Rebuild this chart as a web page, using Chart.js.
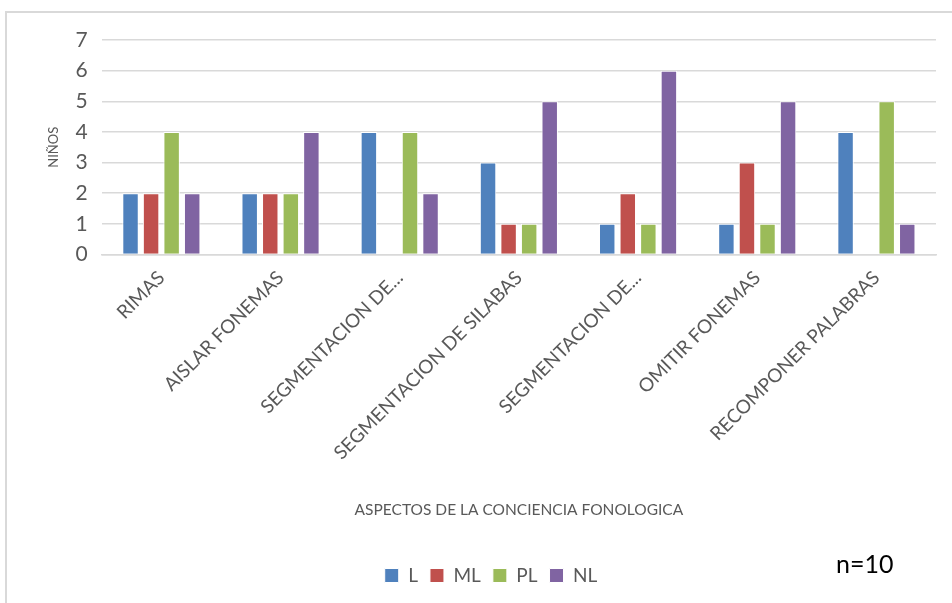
<!DOCTYPE html>
<html>
<head>
<meta charset="utf-8">
<script src="https://cdn.jsdelivr.net/npm/chart.js@4"></script>
<style>
  html, body { margin: 0; padding: 0; background: #fff; overflow: hidden; }
  #frame { position: absolute; left: 5px; top: 11px; width: 1100px; height: 700px;
           border-left: 2px solid #d9d9d9; border-top: 2px solid #d9d9d9; }
  #wrap { position: absolute; left: 0; top: 0; width: 952px; height: 603px; }
</style>
</head>
<body>
<div id="frame"></div>
<div id="wrap"><canvas id="chart"></canvas></div>
<script>
// ─── Data ───
const categories = [
  'RIMAS',
  'AISLAR FONEMAS',
  'SEGMENTACION DE...',
  'SEGMENTACION DE SILABAS',
  'SEGMENTACION DE...',
  'OMITIR FONEMAS',
  'RECOMPONER PALABRAS'
];
const serieL  = [2, 2, 4, 3, 1, 1, 4];
const serieML = [2, 2, 0, 1, 2, 3, 0];
const seriePL = [4, 2, 4, 1, 1, 1, 5];
const serieNL = [2, 4, 2, 5, 6, 5, 1];
const yTicks = [0, 1, 2, 3, 4, 5, 6, 7];

const FONT = 'Lato, "Open Sans", sans-serif';
const GREY = '#595959';

function bar(label, data, color) {
  return {
    label, data,
    backgroundColor: color,
    borderColor: '#ffffff',
    borderWidth: 1,
    barPercentage: 0.8,
    categoryPercentage: 0.69
  };
}

// n=10 note on the chart area
const noteN = {
  id: 'noteN',
  afterDraw(chart) {
    const ctx = chart.ctx;
    ctx.save();
    ctx.font = '25px ' + FONT;
    ctx.fillStyle = '#000';
    ctx.textAlign = 'left';
    ctx.textBaseline = 'middle';
    ctx.fillText('n=10', 836, 565);
    ctx.restore();
  }
};

new Chart(document.getElementById('chart'), {
  type: 'bar',
  data: {
    labels: categories,
    datasets: [
      bar('L', serieL, '#4F81BD'),
      bar('ML', serieML, '#C0504D'),
      bar('PL', seriePL, '#9BBB59'),
      bar('NL', serieNL, '#8064A2')
    ]
  },
  options: {
    responsive: true,
    maintainAspectRatio: false,
    animation: false,
    layout: { padding: { top: 40, right: 16, left: 46, bottom: 8 } },
    plugins: {
      legend: {
        position: 'bottom',
        labels: {
          font: { size: 19, family: FONT },
          color: GREY,
          boxWidth: 14,
          boxHeight: 14,
          padding: 12
        }
      },
      tooltip: { enabled: false }
    },
    scales: {
      y: {
        min: 0,
        max: 7,
        afterBuildTicks(axis) { axis.ticks = yTicks.map(v => ({ value: v })); },
        grid: { color: '#d9d9d9', lineWidth: 1.5, drawTicks: false },
        border: { display: false },
        ticks: { font: { size: 21, family: FONT }, color: GREY, padding: 14 },
        title: { display: true, text: 'NIÑOS', font: { size: 13, family: FONT }, color: GREY, padding: 0 }
      },
      x: {
        afterFit(scale) { scale.height += 22; },
        grid: { display: false },
        border: { color: '#d9d9d9', width: 1.5 },
        ticks: {
          font: { size: 19, family: FONT },
          color: GREY,
          maxRotation: 45,
          minRotation: 45,
          autoSkip: false,
          padding: 4
        },
        title: {
          display: true,
          text: 'ASPECTOS DE LA CONCIENCIA FONOLOGICA',
          font: { size: 15.5, family: FONT },
          color: GREY,
          padding: { top: 60, bottom: 35 }
        }
      }
    }
  },
  plugins: [noteN]
});
</script>
</body>
</html>
